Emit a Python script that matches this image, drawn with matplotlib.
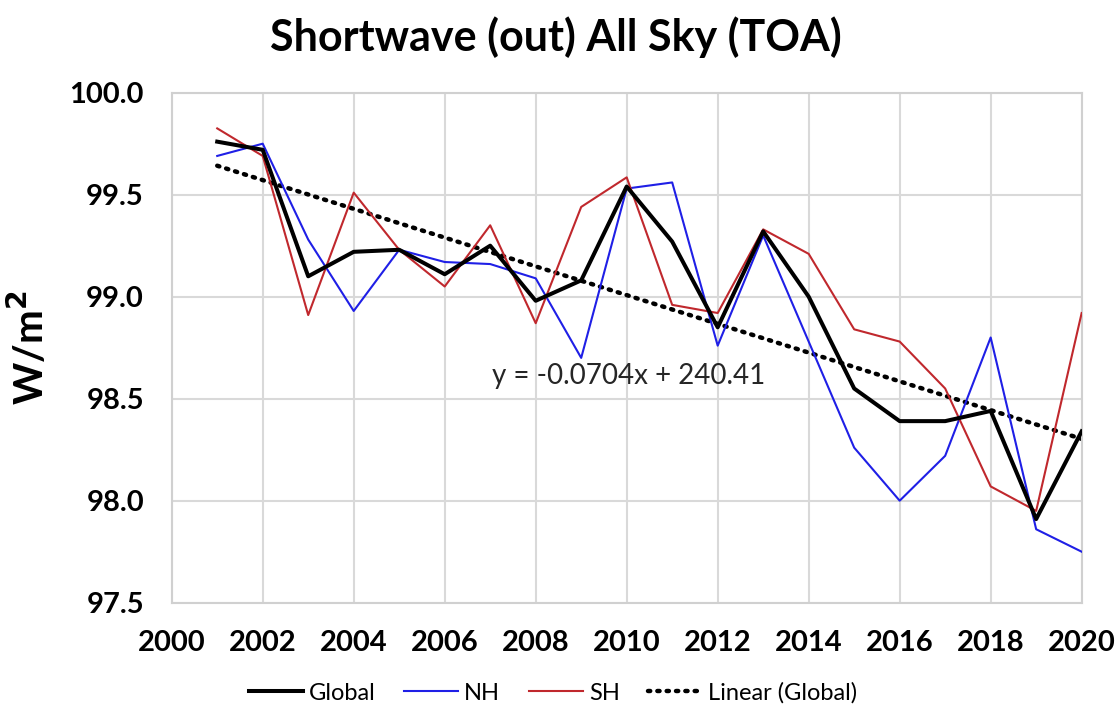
import numpy as np
import matplotlib
matplotlib.use("Agg")
import matplotlib.pyplot as plt

years = list(range(2001, 2021))
global_vals = [99.76, 99.72, 99.10, 99.22, 99.23, 99.11, 99.25, 98.98, 99.08, 99.54,
               99.27, 98.85, 99.32, 99.00, 98.55, 98.39, 98.39, 98.44, 97.91, 98.34]
nh_vals = [99.69, 99.75, 99.28, 98.93, 99.23, 99.17, 99.16, 99.09, 98.70, 99.53,
           99.56, 98.76, 99.30, 98.78, 98.26, 98.00, 98.22, 98.80, 97.86, 97.75]
sh_vals = [99.825, 99.69, 98.91, 99.51, 99.23, 99.05, 99.35, 98.87, 99.44, 99.585,
           98.96, 98.92, 99.33, 99.21, 98.84, 98.78, 98.55, 98.07, 97.95, 98.92]
xticks = list(range(2000, 2021, 2))
yticks = [97.5, 98.0, 98.5, 99.0, 99.5, 100.0]
title = "Shortwave (out) All Sky (TOA)"
equation = "y = -0.0704x + 240.41"

plt.rcParams['font.family'] = ['Lato', 'DejaVu Sans']

fig = plt.figure(figsize=(11.18, 7.13), dpi=100)
ax = fig.add_axes([0.1536, 0.1547, 0.8139, 0.7153])

ax.plot(years, global_vals, color='black', lw=2.9, label='Global', zorder=4)
ax.plot(years, nh_vals, color='#1f1fe6', lw=1.5, label='NH', zorder=3)
ax.plot(years, sh_vals, color='#c0282d', lw=1.5, label='SH', zorder=3)
coef = np.polyfit(years, global_vals, 1)
trend = np.polyval(coef, years)
ax.plot(years, trend, color='black', lw=3.2, ls=(0, (0.5, 1.6)), dash_capstyle='round',
        label='Linear (Global)', zorder=2)

ax.set_xlim(2000, 2020)
ax.set_ylim(97.5, 100.0)
ax.set_xticks(xticks)
ax.set_yticks(yticks)
ax.set_yticklabels([f"{v:.1f}" for v in yticks])
ax.grid(True, color='#d9d9d9', lw=1.5)
ax.set_axisbelow(True)
for s in ax.spines.values():
    s.set_color('#d0d0d0')
    s.set_linewidth(1.5)
ax.tick_params(axis='y', length=0, pad=20, labelsize=21)
ax.tick_params(axis='x', length=0, pad=20, labelsize=21)
for lab in ax.get_xticklabels() + ax.get_yticklabels():
    lab.set_fontweight('bold')

ax.set_ylabel("W/m$^\\mathbf{2}$", fontsize=29, fontweight='bold')
ax.yaxis.set_label_coords(-0.133, 0.5)
fig.text(0.497, 0.948, title, ha='center', va='center', fontsize=31, fontweight='bold')
ax.text(2010.05, 98.61, equation, ha='center', va='center', fontsize=20, color='#262626')

ax.legend(loc='center', bbox_to_anchor=(0.419, -0.177), ncol=4, frameon=False,
          fontsize=17, handlelength=2.3, columnspacing=1.2, handletextpad=0.25)

fig.savefig("out.png", dpi=100)
